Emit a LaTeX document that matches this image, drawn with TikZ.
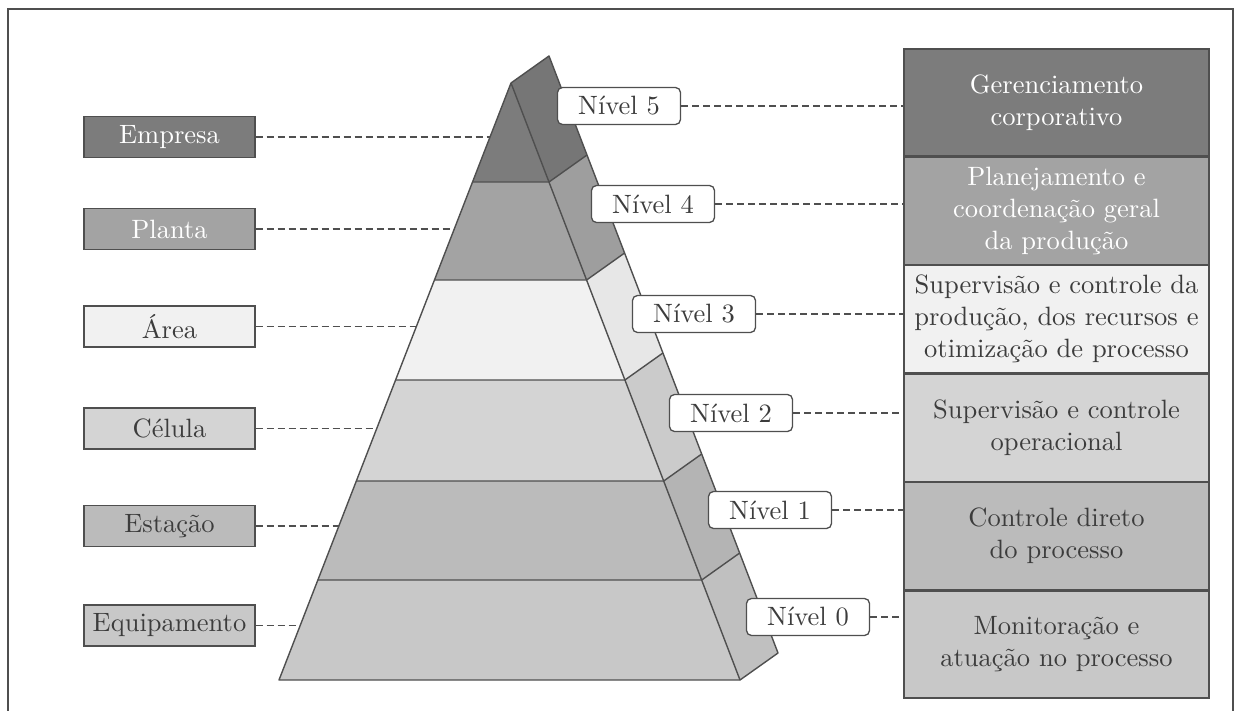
\documentclass[tikz,border=0pt]{standalone}
\usepackage{tikz}
\usetikzlibrary{positioning,calc}
\definecolor{pyline}{HTML}{4F4F4F}
\definecolor{txtgray}{HTML}{3C3C3C}
\definecolor{lvfive}{HTML}{7C7C7C}
\definecolor{lvfour}{HTML}{A3A3A3}
\definecolor{lvthree}{HTML}{F1F1F1}
\definecolor{lvtwo}{HTML}{D4D4D4}
\definecolor{lvone}{HTML}{BBBBBB}
\definecolor{lvzero}{HTML}{C8C8C8}
\font\lmbig="[lmroman10-regular]:mapping=tex-text" at 26.5pt
\newcommand\labelfont{\fontsize{26.5}{32}\selectfont\lmbig}

\begin{document}
\begin{tikzpicture}[x=1pt, y=-1pt,
  lbox/.style={rectangle, draw=pyline, line width=1.4pt, inner sep=0pt,
               minimum width=171pt, minimum height=41pt, font=\labelfont},
  nbox/.style={rectangle, rounded corners=5pt, draw=pyline, line width=1.3pt,
               fill=white, inner sep=0pt, minimum width=123pt, minimum height=37pt,
               font=\labelfont, text=txtgray},
  rbox/.style={rectangle, draw=pyline, line width=1.4pt, inner sep=0pt,
               minimum width=305pt, minimum height=107pt, text width=302pt,
               align=center, font=\labelfont},
  face/.style={draw=pyline, line width=1.4pt, line join=round},
  dline/.style={draw=pyline, line width=1.4pt, dash pattern=on 7pt off 4pt}
]
\useasboundingbox (0,0) rectangle (1234,711);

% Frame
\draw[pyline, line width=1.6pt] (8,711) -- (8,9) -- (1233,9) -- (1233,711);

% Pyramid corners
\coordinate (top)  at (511,83);   \coordinate (topb) at (549,56);
\coordinate (l1) at (472.5,182);  \coordinate (r1) at (549.0,182); \coordinate (b1) at (587.0,155);
\coordinate (l2) at (434.4,280);  \coordinate (r2) at (586.6,280); \coordinate (b2) at (624.6,253);
\coordinate (l3) at (395.6,380);  \coordinate (r3) at (624.9,380); \coordinate (b3) at (662.9,353);
\coordinate (l4) at (356.3,481);  \coordinate (r4) at (663.7,481); \coordinate (b4) at (701.7,454);
\coordinate (l5) at (317.9,580);  \coordinate (r5) at (701.7,580); \coordinate (b5) at (739.7,553);
\coordinate (l6) at (279,680);    \coordinate (r6) at (740,680);   \coordinate (b6) at (778,653);

% Front faces
\fill[lvfive]  (top) -- (r1) -- (l1) -- cycle;
\fill[lvfour]  (l1) -- (r1) -- (r2) -- (l2) -- cycle;
\fill[lvthree] (l2) -- (r2) -- (r3) -- (l3) -- cycle;
\fill[lvtwo]   (l3) -- (r3) -- (r4) -- (l4) -- cycle;
\fill[lvone]   (l4) -- (r4) -- (r5) -- (l5) -- cycle;
\fill[lvzero]  (l5) -- (r5) -- (r6) -- (l6) -- cycle;

% Side faces
\fill[lvfive!95!black]  (top) -- (topb) -- (b1) -- (r1) -- cycle;
\fill[lvfour!97!black]  (r1) -- (b1) -- (b2) -- (r2) -- cycle;
\fill[lvthree!96!black] (r2) -- (b2) -- (b3) -- (r3) -- cycle;
\fill[lvtwo!96!black]   (r3) -- (b3) -- (b4) -- (r4) -- cycle;
\fill[lvone!96!black]   (r4) -- (b4) -- (b5) -- (r5) -- cycle;
\fill[lvzero!96!black]  (r5) -- (b5) -- (b6) -- (r6) -- cycle;

% Pyramid edges
\draw[face] (l6) -- (top) -- (topb) -- (b6) -- (r6) -- cycle;
\draw[face] (top) -- (r6);
\draw[face] (l1) -- (r1) -- (b1);
\draw[face] (l2) -- (r2) -- (b2);
\draw[face] (l3) -- (r3) -- (b3);
\draw[face] (l4) -- (r4) -- (b4);
\draw[face] (l5) -- (r5) -- (b5);

% Ends of the left connectors on the pyramid
\coordinate (pemp) at (490,137);
\coordinate (ppla) at (454.3,229);
\coordinate (pare) at (416.4,326.5);
\coordinate (pcel) at (376.7,428.5);
\coordinate (pest) at (338.8,526);
\coordinate (pequ) at (300.2,625.5);

% Left boxes
\node[lbox, fill=lvfive, text=white]    (emp) at (169.5,137)   {Empresa};
\node[lbox, fill=lvfour, text=white]    (pla) at (169.5,229)   {Planta};
\node[lbox, fill=lvthree, text=txtgray] (are) at (169.5,326.5) {Área};
\node[lbox, fill=lvtwo, text=txtgray]   (cel) at (169.5,428.5) {Célula};
\node[lbox, fill=lvone, text=txtgray]   (est) at (169.5,526)   {Estação};
\node[lbox, fill=lvzero, text=txtgray]  (equ) at (169.5,625.5) {Equipamento};

% Level labels
\node[nbox] (n5) at (619,106) {Nível 5};
\node[nbox] (n4) at (653,204) {Nível 4};
\node[nbox] (n3) at (694,314) {Nível 3};
\node[nbox] (n2) at (731,413) {Nível 2};
\node[nbox] (n1) at (770,510) {Nível 1};
\node[nbox] (n0) at (808,617) {Nível 0};

% Right boxes
\node[rbox, fill=lvfive, text=white] (ger) at (1056.5,102.5) {Gerenciamento\\corporativo};
\node[rbox, fill=lvfour, text=white, below=0pt of ger] (pln) {Planejamento e\\coordenação geral\\da produção};
\node[rbox, fill=lvthree, text=txtgray, below=0pt of pln] (sup) {Supervisão e controle da\\produção, dos recursos e\\otimização de processo};
\node[rbox, fill=lvtwo, text=txtgray, below=0pt of sup] (ope) {Supervisão e controle\\operacional};
\node[rbox, fill=lvone, text=txtgray, below=0pt of ope] (dir) {Controle direto\\do processo};
\node[rbox, fill=lvzero, text=txtgray, below=0pt of dir] (mon) {Monitoração e\\atuação no processo};

% Connectors
\draw[dline] (emp.east) -- (pemp);
\draw[dline] (pla.east) -- (ppla);
\draw[dline] (are.east) -- (pare);
\draw[dline] (cel.east) -- (pcel);
\draw[dline] (est.east) -- (pest);
\draw[dline] (equ.east) -- (pequ);

\draw[dline] (n5.east) -- (n5.east -| ger.west);
\draw[dline] (n4.east) -- (n4.east -| pln.west);
\draw[dline] (n3.east) -- (n3.east -| sup.west);
\draw[dline] (n2.east) -- (n2.east -| ope.west);
\draw[dline] (n1.east) -- (n1.east -| dir.west);
\draw[dline] (n0.east) -- (n0.east -| mon.west);
\end{tikzpicture}
\end{document}
